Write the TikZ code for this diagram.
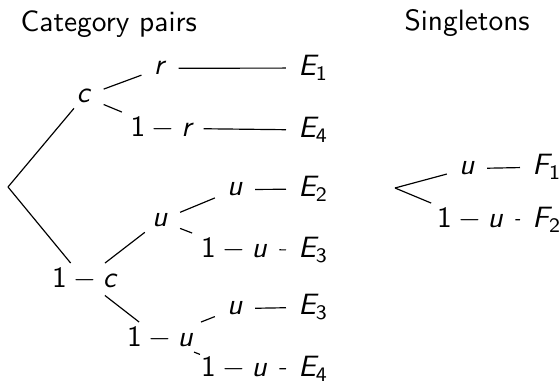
\documentclass[tikz,border=0pt]{standalone}
\usepackage{amsmath}
\newcommand{\mv}[1]{\textit{#1}}
\newcommand{\sub}[1]{_{\textsf{#1}}}
\newcommand{\om}[1]{$\textsf{1}-\mv{#1}$}
\tikzset{
  lab/.style={anchor=base, inner xsep=4pt, inner ysep=1.5pt},
  leaf/.style={anchor=base west, inner xsep=4pt, inner ysep=1.5pt},
  title/.style={anchor=base west, inner sep=0pt},
  edge/.style={draw=black, line width=0.4pt}
}
\begin{document}
\begin{tikzpicture}[x=0.34pt, y=-0.34pt, font=\sffamily]
\useasboundingbox (0,0) rectangle (560,382);
% titles
\node[title] (t1) at (20,32) {Category pairs};
\node[title] (t2) at (404,31) {Singletons};
% tree 1
\coordinate (root) at (8,187);
\node[lab] (c)    at (84,103)  {\mv{c}};
\node[lab] (r)    at (160,75)  {\mv{r}};
\node[lab] (omr)  at (161,137) {\om{r}};
\node[leaf] (E1)  at (286,76)  {$\mv{E}\sub{1}$};
\node[leaf] (E4)  at (286,138) {$\mv{E}\sub{4}$};
\node[lab] (omc)  at (84,288)  {\om{c}};
\node[lab] (u1)   at (160,227) {\mv{u}};
\node[lab] (u2)   at (235,196) {\mv{u}};
\node[lab] (omu2) at (234,258) {\om{u}};
\node[leaf] (E2)  at (286,197) {$\mv{E}\sub{2}$};
\node[leaf] (E3)  at (286,258) {$\mv{E}\sub{3}$};
\node[lab] (omu1) at (160,347) {\om{u}};
\node[lab] (u3)   at (235,315) {\mv{u}};
\node[lab] (omu3) at (234,377) {\om{u}};
\node[leaf] (E3b) at (286,315) {$\mv{E}\sub{3}$};
\node[leaf] (E4b) at (286,377) {$\mv{E}\sub{4}$};
\draw[edge] (root) -- (c);
\draw[edge] (root) -- (omc);
\draw[edge] (c) -- (r);
\draw[edge] (c) -- (omr);
\draw[edge] (r) -- (E1);
\draw[edge] (omr) -- (E4);
\draw[edge] (omc) -- (u1);
\draw[edge] (omc) -- (omu1);
\draw[edge] (u1) -- (u2);
\draw[edge] (u1) -- (omu2);
\draw[edge] (u2) -- (E2);
\draw[edge] (omu2) -- (E3);
\draw[edge] (omu1) -- (u3);
\draw[edge] (omu1) -- (omu3);
\draw[edge] (u3) -- (E3b);
\draw[edge] (omu3) -- (E4b);
% tree 2
\coordinate (root2) at (395,188);
\node[lab] (uS)   at (467,175) {\mv{u}};
\node[lab] (omuS) at (470,228) {\om{u}};
\node[leaf] (F1)  at (520,175) {$\mv{F}\sub{1}$};
\node[leaf] (F2)  at (520,228) {$\mv{F}\sub{2}$};
\draw[edge] (root2) -- (uS);
\draw[edge] (root2) -- (omuS);
\draw[edge] (uS) -- (F1);
\draw[edge] (omuS) -- (F2);
\end{tikzpicture}
\end{document}
